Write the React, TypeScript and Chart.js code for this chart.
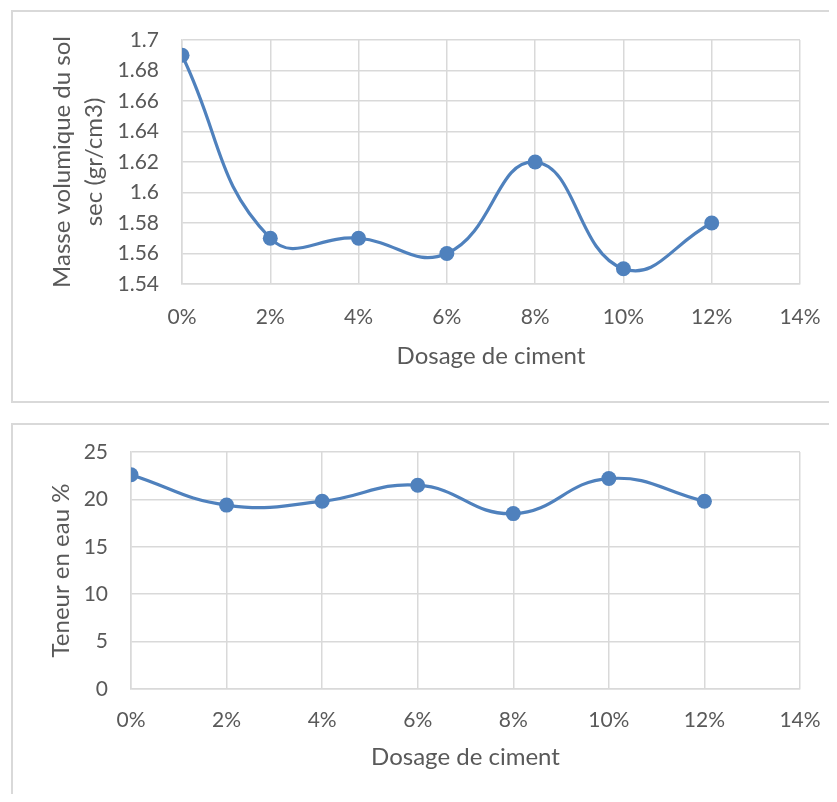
import React, { useEffect, useRef } from "react";
import { Chart, registerables } from "chart.js";

Chart.register(...registerables);

// Data
const dosage = [0, 0.02, 0.04, 0.06, 0.08, 0.1, 0.12];
const xTicks = [0, 0.02, 0.04, 0.06, 0.08, 0.1, 0.12, 0.14];
const masseVolumique = [1.69, 1.57, 1.57, 1.56, 1.62, 1.55, 1.58];
const teneurEau = [22.6, 19.4, 19.8, 21.5, 18.5, 22.2, 19.8];

const xTitle = "Dosage de ciment";
const yTitleTop = ["Masse volumique du sol", "sec (gr/cm3)"];
const yTitleBottom = "Teneur en eau %";

const FONT = "Lato, 'Open Sans', sans-serif";
const TEXT = "#595959";
const GRID = "#d9d9d9";
const BLUE = "#4f81bd";

type Cfg = {
  values: number[];
  yMin: number;
  yMax: number;
  yStep: number;
  yTitle: string | string[];
  yWidth: number;
  xHeight: number;
  padTop: number;
  padRight: number;
  yTitlePad: number;
  yTickPad: number;
  xTickPad: number;
  xTitlePadBottom: number;
};

function makeChart(canvas: HTMLCanvasElement, c: Cfg) {
  return new Chart(canvas, {
    type: "line",
    data: {
      datasets: [
        {
          data: dosage.map((x, i) => ({ x, y: c.values[i] })),
          borderColor: BLUE,
          backgroundColor: BLUE,
          borderWidth: 3.2,
          pointRadius: 7.5,
          pointBorderWidth: 0,
          pointBackgroundColor: BLUE,
          tension: 0.45,
          fill: false,
        },
      ],
    },
    options: {
      responsive: false,
      animation: false,
      events: [],
      layout: { padding: { top: c.padTop, right: c.padRight, left: 0, bottom: 0 } },
      plugins: { legend: { display: false }, tooltip: { enabled: false } },
      scales: {
        x: {
          type: "linear",
          min: 0,
          max: 0.14,
          afterFit: (s: any) => {
            s.height = c.xHeight;
            s.paddingLeft = 0;
            s.paddingRight = 0;
            s.paddingTop = 0;
            s.paddingBottom = 0;
          },
          afterBuildTicks: (s: any) => {
            s.ticks = xTicks.map((v) => ({ value: v }));
          },
          ticks: {
            color: TEXT,
            font: { family: FONT, size: 21 },
            padding: c.xTickPad,
            maxRotation: 0,
            callback: (v: any) => Math.round(Number(v) * 100) + "%",
          },
          grid: { color: GRID, lineWidth: 1.5, drawTicks: false },
          border: { color: GRID, width: 1.5 },
          title: {
            display: true,
            text: xTitle,
            color: TEXT,
            font: { family: FONT, size: 24, lineHeight: 1.2 },
            padding: { top: 0, bottom: c.xTitlePadBottom },
          },
        },
        y: {
          min: c.yMin,
          max: c.yMax,
          afterFit: (s: any) => {
            s.width = c.yWidth;
            s.paddingLeft = 0;
            s.paddingRight = 0;
            s.paddingTop = 0;
            s.paddingBottom = 0;
          },
          ticks: {
            stepSize: c.yStep,
            color: TEXT,
            font: { family: FONT, size: 21 },
            padding: c.yTickPad,
            callback: (v: any) => String(parseFloat(Number(v).toFixed(2))),
          },
          grid: { color: GRID, lineWidth: 1.5, drawTicks: false },
          border: { color: GRID, width: 1.5 },
          title: {
            display: true,
            text: c.yTitle,
            color: TEXT,
            font: { family: FONT, size: 24, lineHeight: 1.3 },
            padding: { top: c.yTitlePad, bottom: 0 },
          },
        },
      },
    },
  } as any);
}

export default function App() {
  const topRef = useRef<HTMLCanvasElement>(null);
  const botRef = useRef<HTMLCanvasElement>(null);

  useEffect(() => {
    const a = makeChart(topRef.current!, {
      values: masseVolumique,
      yMin: 1.54,
      yMax: 1.7,
      yStep: 0.02,
      yTitle: yTitleTop,
      yWidth: 174,
      xHeight: 119,
      padTop: 32,
      padRight: 29,
      yTitlePad: 39,
      yTickPad: 23,
      xTickPad: 21,
      xTitlePadBottom: 32,
    });
    const b = makeChart(botRef.current!, {
      values: teneurEau,
      yMin: 0,
      yMax: 25,
      yStep: 5,
      yTitle: yTitleBottom,
      yWidth: 123,
      xHeight: 97,
      padTop: 27,
      padRight: 29,
      yTitlePad: 38,
      yTickPad: 23,
      xTickPad: 19,
      xTitlePadBottom: 14,
    });
    return () => {
      a.destroy();
      b.destroy();
    };
  }, []);

  const box: React.CSSProperties = {
    position: "absolute",
    left: 3,
    width: 830,
    border: `2px solid ${GRID}`,
    boxSizing: "border-box",
    background: "#fff",
  };

  return (
    <div style={{ position: "relative", width: 821, height: 786, overflow: "hidden", background: "#fff" }}>
      <div style={{ ...box, top: 2, height: 393 }} />
      <div style={{ ...box, top: 415, height: 400 }} />
      <canvas
        ref={topRef}
        width={821}
        height={395}
        style={{ position: "absolute", left: 0, top: 0, width: 821, height: 395 }}
      />
      <canvas
        ref={botRef}
        width={821}
        height={361}
        style={{ position: "absolute", left: 0, top: 417, width: 821, height: 361 }}
      />
    </div>
  );
}
